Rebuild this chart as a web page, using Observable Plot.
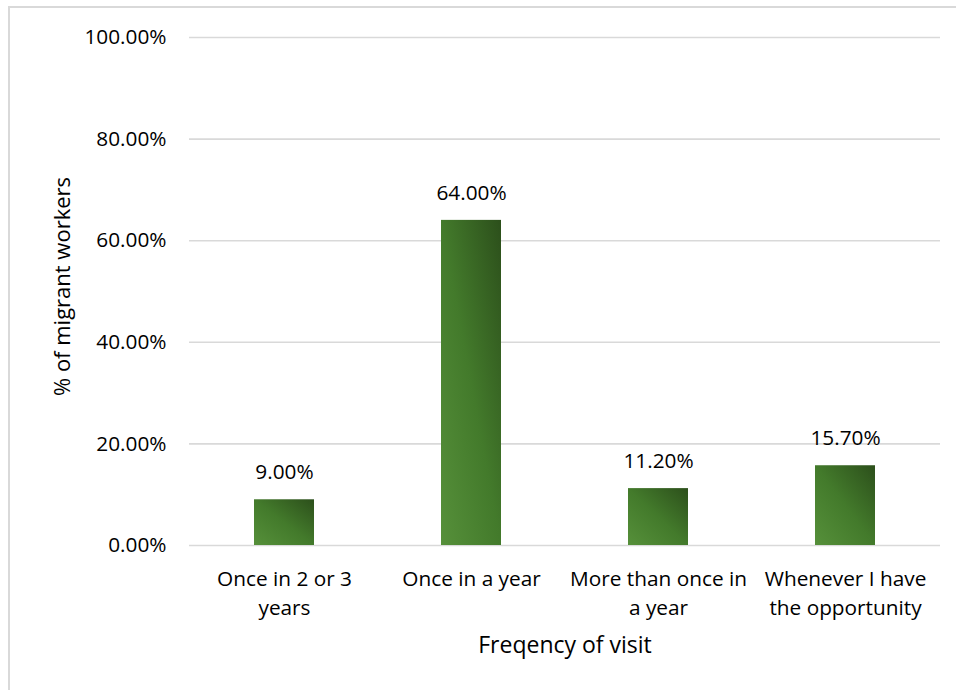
<!DOCTYPE html>
<html>
<head>
<meta charset="utf-8">
<script src="https://cdn.jsdelivr.net/npm/d3@7"></script>
<script src="https://cdn.jsdelivr.net/npm/@observablehq/plot@0.6"></script>
<style>
  html, body { margin: 0; padding: 0; background: #fff; }
  #wrap { position: relative; width: 956px; height: 690px; overflow: hidden; }
  #border { position: absolute; left: 8px; top: 6px; width: 1000px; height: 800px;
            border: 2px solid #d9d9d9; pointer-events: none; }
</style>
</head>
<body>
<div id="wrap"><div id="border"></div></div>
<script>
// Frequency of home visits among migrant workers (% of respondents)
const categories = ["Once in 2 or 3 years", "Once in a year", "More than once in a year", "Whenever I have the opportunity"];
const tickLines = ["Once in 2 or 3\nyears", "Once in a year", "More than once in\na year", "Whenever I have\nthe opportunity"];
const shares = [9.0, 64.0, 11.2, 15.7];
const yTicks = [0, 20, 40, 60, 80, 100];

const data = categories.map((c, i) => ({category: c, value: shares[i]}));
const pct = d => d.toFixed(2) + "%";
const font = "'Open Sans', sans-serif";

const chart = Plot.plot({
  width: 956,
  height: 690,
  marginLeft: 189,
  marginRight: 16,
  marginTop: 37,
  marginBottom: 145,
  style: {fontFamily: font, color: "#000", background: "transparent"},
  x: {domain: categories, paddingInner: 0.68, paddingOuter: 0.34, label: null},
  y: {domain: [0, 100], label: null},
  marks: [
    Plot.gridY(yTicks, {stroke: "#d9d9d9", strokeOpacity: 1, strokeWidth: 1.6}),
    Plot.barY(data, {x: "category", y: "value", fill: "url(#barGrad)"}),
    Plot.text(data, {x: "category", y: "value", text: d => pct(d.value), dy: -27, fontSize: 20.8, fill: "#000"}),
    Plot.axisY(yTicks, {tickSize: 0, tickPadding: 23, tickFormat: pct, fontSize: 20.8, label: null}),
    Plot.axisX({tickSize: 0, tickPadding: 21, tickFormat: c => tickLines[categories.indexOf(c)],
                fontSize: 20.8, lineHeight: 1.35, label: null}),
    Plot.text(["% of migrant workers"], {frameAnchor: "left", textAnchor: "middle", dx: -127, dy: -5,
                                          rotate: -90, fontSize: 22, fill: "#000"}),
    Plot.text(["Freqency of visit"], {frameAnchor: "bottom", dy: 107, fontSize: 23, fill: "#000"})
  ]
});

// Diagonal green gradient shared by all bars
const ns = "http://www.w3.org/2000/svg";
const defs = document.createElementNS(ns, "defs");
defs.innerHTML = `<linearGradient id="barGrad" x1="0" y1="1" x2="1" y2="0">
  <stop offset="0" stop-color="#56903a"/>
  <stop offset="0.5" stop-color="#437a2b"/>
  <stop offset="1" stop-color="#2c4f1b"/>
</linearGradient>`;
chart.insertBefore(defs, chart.firstChild);

document.getElementById("wrap").insertBefore(chart, document.getElementById("border"));
</script>
</body>
</html>
